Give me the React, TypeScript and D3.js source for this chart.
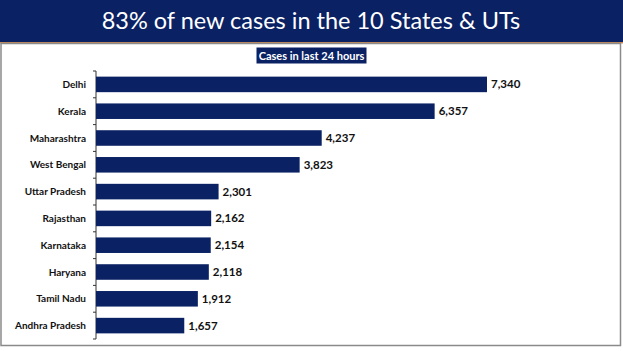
import React from "react";
import * as d3 from "d3";

const categories = [
  "Delhi",
  "Kerala",
  "Maharashtra",
  "West Bengal",
  "Uttar Pradesh",
  "Rajasthan",
  "Karnataka",
  "Haryana",
  "Tamil Nadu",
  "Andhra Pradesh",
];
const cases = [7340, 6357, 4237, 3823, 2301, 2162, 2154, 2118, 1912, 1657];
const title = "83% of new cases in the 10 States & UTs";
const subtitle = "Cases in last 24 hours";

const W = 623;
const H = 351;
const NAVY = "#0a2164";
const FONT = "Lato, 'Open Sans', sans-serif";

export default function App() {
  const x = d3.scaleLinear().domain([0, 7340]).range([96, 487]);
  const y = d3
    .scaleBand<string>()
    .domain(categories)
    .range([71, 339])
    .paddingInner(0.42)
    .paddingOuter(0.21);
  const fmt = d3.format(",");
  const axisX = x(0);
  const tickYs = categories.map((c) => (y(c) as number) - (y.step() * y.paddingInner()) / 2);
  tickYs.push(339);

  return (
    <svg
      width={W}
      height={H}
      style={{ position: "absolute", left: 0, top: 0, background: "#fff" }}
    >
      <rect x={0} y={0} width={W} height={42} fill={NAVY} />
      <line x1={0} x2={W} y1={42.8} y2={42.8} stroke="#c98a55" strokeWidth={1.5} />
      <text
        x={311}
        y={29}
        textAnchor="middle"
        fill="#fff"
        fontFamily={FONT}
        fontSize={23.5}
      >
        {title}
      </text>
      <rect x={1} y={43.5} width={619.5} height={302} fill="none" stroke="#8a8a8a" strokeWidth={1.5} />
      <rect x={256.5} y={47.5} width={110} height={16} fill={NAVY} />
      <text
        x={311.5}
        y={59.5}
        textAnchor="middle"
        fill="#fff"
        fontFamily={FONT}
        fontWeight="bold"
        fontSize={11}
      >
        {subtitle}
      </text>
      <line x1={axisX} x2={axisX} y1={71} y2={339} stroke="#333" strokeWidth={1} />
      {tickYs.map((t, i) => (
        <line key={i} x1={axisX - 3} x2={axisX} y1={t} y2={t} stroke="#333" strokeWidth={1} />
      ))}
      {categories.map((c, i) => {
        const by = y(c) as number;
        const bh = y.bandwidth();
        return (
          <g key={c}>
            <rect
              x={axisX}
              y={by}
              width={x(cases[i]) - axisX}
              height={bh}
              fill={NAVY}
            />
            <text
              x={86}
              y={by + bh / 2}
              dy="0.35em"
              textAnchor="end"
              fontFamily={FONT}
              fontWeight="bold"
              fontSize={10}
              fill="#111"
            >
              {c}
            </text>
            <text
              x={x(cases[i]) + 4}
              y={by + bh / 2}
              dy="0.35em"
              fontFamily={FONT}
              fontWeight="bold"
              fontSize={11.5}
              fill="#111"
            >
              {fmt(cases[i])}
            </text>
          </g>
        );
      })}
    </svg>
  );
}
